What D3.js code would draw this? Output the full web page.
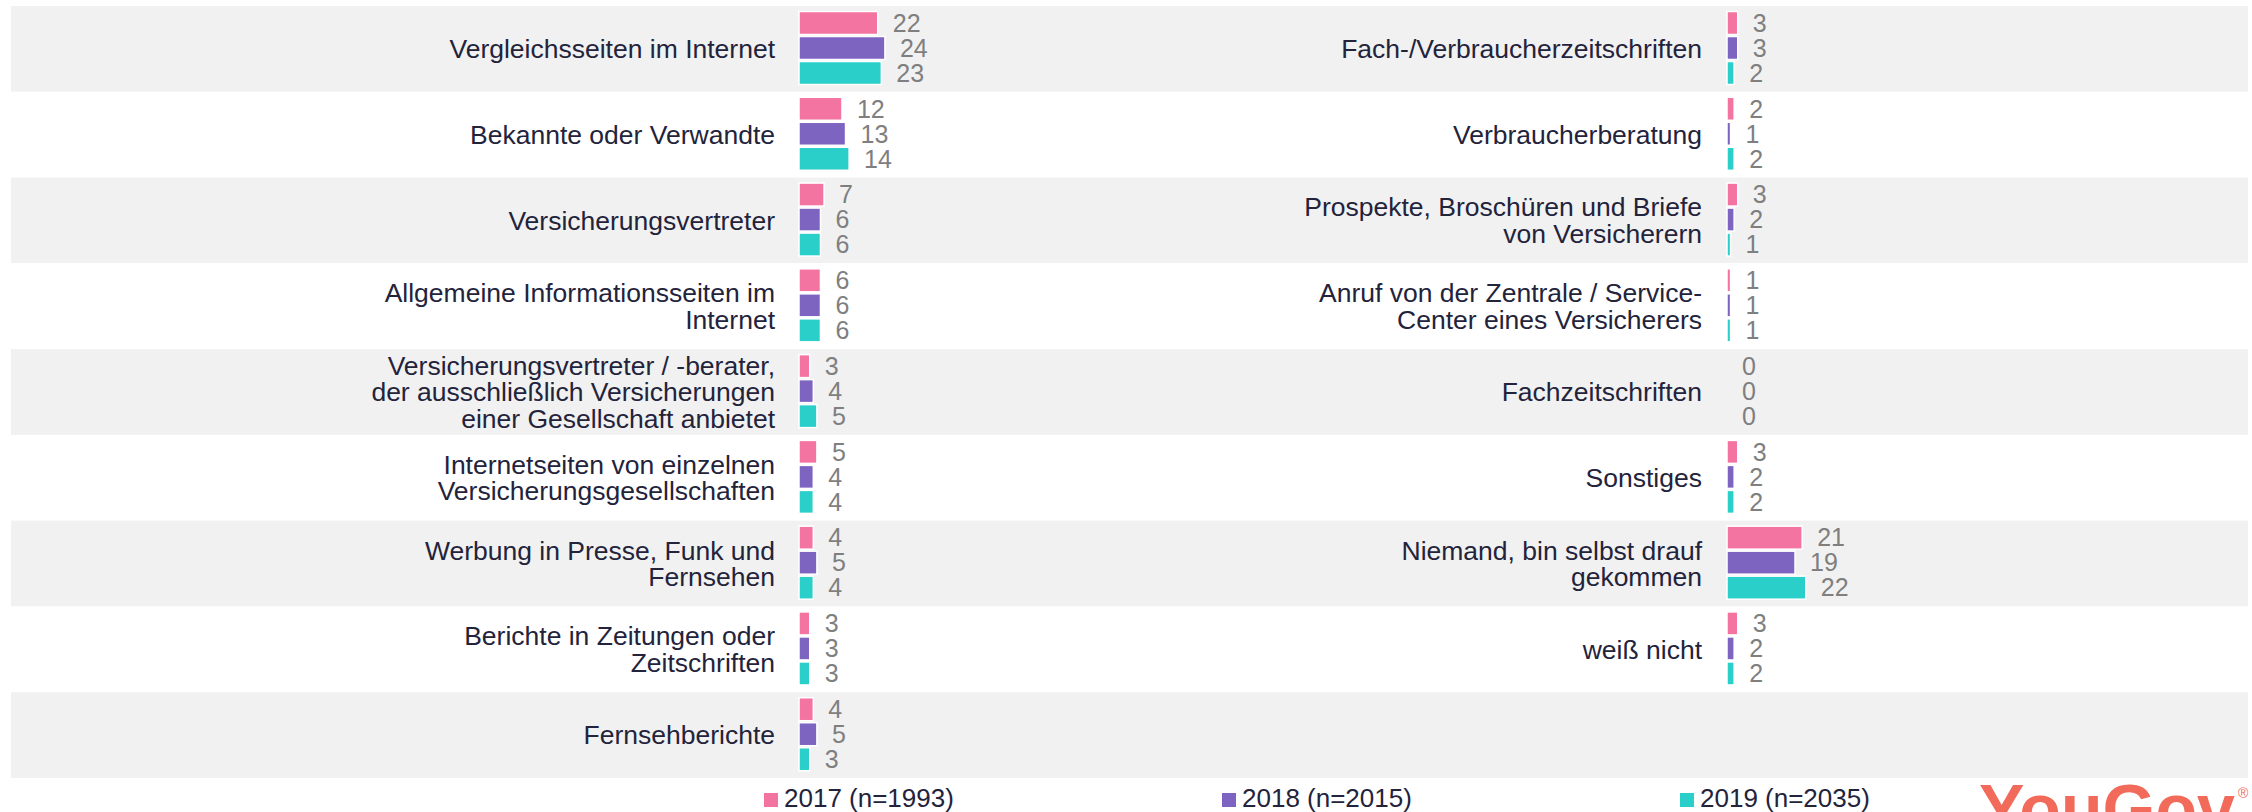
<!DOCTYPE html>
<html>
<head>
<meta charset="utf-8">
<script src="https://cdn.jsdelivr.net/npm/d3@7"></script>
<style>
  body { margin: 0; background: #fff; }
  svg { display: block; }
  text { font-family: "Liberation Sans", Arial, sans-serif; }
</style>
</head>
<body>
<svg width="2252" height="812"></svg>
<script>
// series
var seriesNames = ["2017 (n=1993)", "2018 (n=2015)", "2019 (n=2035)"]
var seriesColors = ["#f474a1", "#7d64c1", "#2bcfc9"]

// left column
var leftCats = [
  "Vergleichsseiten im Internet",
  "Bekannte oder Verwandte",
  "Versicherungsvertreter",
  "Allgemeine Informationsseiten im\nInternet",
  "Versicherungsvertreter / -berater,\nder ausschließlich Versicherungen\neiner Gesellschaft anbietet",
  "Internetseiten von einzelnen\nVersicherungsgesellschaften",
  "Werbung in Presse, Funk und\nFernsehen",
  "Berichte in Zeitungen oder\nZeitschriften",
  "Fernsehberichte"
]
var left2017 = [22, 12, 7, 6, 3, 5, 4, 3, 4]
var left2018 = [24, 13, 6, 6, 4, 4, 5, 3, 5]
var left2019 = [23, 14, 6, 6, 5, 4, 4, 3, 3]

// right column
var rightCats = [
  "Fach-/Verbraucherzeitschriften",
  "Verbraucherberatung",
  "Prospekte, Broschüren und Briefe\nvon Versicherern",
  "Anruf von der Zentrale / Service-\nCenter eines Versicherers",
  "Fachzeitschriften",
  "Sonstiges",
  "Niemand, bin selbst drauf\ngekommen",
  "weiß nicht"
]
var right2017 = [3, 2, 3, 1, 0, 3, 21, 3]
var right2018 = [3, 1, 2, 1, 0, 2, 19, 2]
var right2019 = [2, 2, 1, 1, 0, 2, 22, 2]

var svg = d3.select("svg")

var row = d3.scaleBand().domain(d3.range(9)).range([6, 778])
var inner = d3.scaleBand().domain([0, 1, 2]).range([5.5, 78.5]).paddingInner(0.08)
var x = d3.scaleLinear().domain([0, 25]).range([0, 89.5])

// row stripes
svg.append("g").selectAll("rect")
  .data(row.domain())
  .enter().append("rect")
  .attr("x", 11)
  .attr("y", function(d){ return row(d) })
  .attr("width", 2237)
  .attr("height", row.bandwidth())
  .attr("fill", function(d){ return d % 2 == 0 ? "#f1f1f1" : "#fff" })

function drawPanel(cats, vals, labelX, barX){
  var g = svg.append("g")
  var rows = g.selectAll("g.row")
    .data(cats)
    .enter().append("g")
    .attr("class", "row")
    .attr("transform", function(d, i){ return "translate(0," + row(i) + ")" })

  // category label, lines centred on the row
  rows.append("text")
    .attr("text-anchor", "end")
    .attr("fill", "#23233b")
    .style("font-size", "26.5px")
    .each(function(d){
      var lines = d.split("\n")
      var lh = 26.5
      var t = d3.select(this)
      lines.forEach(function(l, k){
        t.append("tspan")
          .attr("x", labelX)
          .attr("y", row.bandwidth() / 2 + (k - (lines.length - 1) / 2) * lh)
          .attr("dy", "0.35em")
          .text(l)
      })
    })

  rows.each(function(d, i){
    var r = d3.select(this)
    var v = vals.map(function(s){ return s[i] })
    r.selectAll("rect")
      .data(v)
      .enter().append("rect")
      .attr("x", barX)
      .attr("y", function(d, k){ return inner(k) })
      .attr("width", function(d){ return x(d) })
      .attr("height", inner.bandwidth())
      .attr("fill", function(d, k){ return seriesColors[k] })
      .attr("stroke", "#fff")
      .attr("stroke-width", function(d){ return d > 0 ? 1.5 : 0 })

    r.selectAll("text.val")
      .data(v)
      .enter().append("text")
      .attr("class", "val")
      .attr("x", function(d){ return barX + x(d) + 15 })
      .attr("y", function(d, k){ return inner(k) + inner.bandwidth() / 2 })
      .attr("dy", "0.35em")
      .attr("fill", "#7f7f7f")
      .style("font-size", "25px")
      .text(function(d){ return d })
  })
}

drawPanel(leftCats, [left2017, left2018, left2019], 775, 799)
drawPanel(rightCats, [right2017, right2018, right2019], 1702, 1727)

// legend
var legX = d3.scalePoint().domain(seriesNames).range([764, 1680])
var leg = svg.append("g").selectAll("g")
  .data(seriesNames)
  .enter().append("g")
  .attr("transform", function(d){ return "translate(" + legX(d) + ",793)" })
leg.append("rect")
  .attr("width", 14)
  .attr("height", 14)
  .attr("fill", function(d, i){ return seriesColors[i] })
leg.append("text")
  .attr("x", 20)
  .attr("y", 14)
  .attr("fill", "#23233b")
  .style("font-size", "26px")
  .text(function(d){ return d })

// logo (cut by the bottom edge, as in the original)
svg.append("text")
  .attr("x", 1979)
  .attr("y", 832)
  .attr("textLength", 256)
  .attr("lengthAdjust", "spacingAndGlyphs")
  .attr("fill", "#f26a5a")
  .style("font-size", "68px")
  .style("font-weight", "bold")
  .text("YouGov")
svg.append("text")
  .attr("x", 2238)
  .attr("y", 798)
  .attr("fill", "#f26a5a")
  .style("font-size", "14px")
  .text("®")
</script>
</body>
</html>
